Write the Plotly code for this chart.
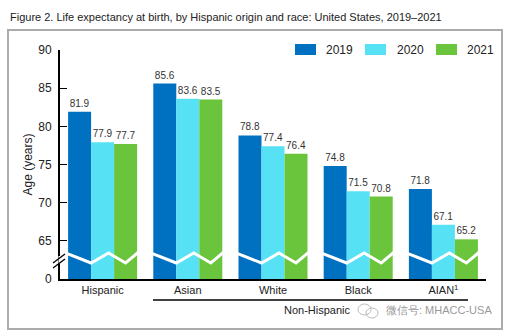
import plotly.graph_objects as go

categories = ["Hispanic", "Asian", "White", "Black", "AIAN<sup>1</sup>"]
years = ["2019", "2020", "2021"]
v2019 = [81.9, 85.6, 78.8, 74.8, 71.8]
v2020 = [77.9, 83.6, 77.4, 71.5, 67.1]
v2021 = [77.7, 83.5, 76.4, 70.8, 65.2]
colors = ["#0070C0", "#57E1F5", "#6BC53C"]
tick_vals = [60, 65, 70, 75, 80, 85, 90]
tick_text = ["0", "65", "70", "75", "80", "85", "90"]
BASE = 60

W, H = 512, 332
ML, MR, MT, MB = 60, 26, 50, 53
PW, PH = W - ML - MR, H - MT - MB

def px(x):
    return (x - ML) / PW

def py(y):
    return (H - MB - y) / PH

fig = go.Figure()
xs = list(range(len(categories)))
for name, vals, col in zip(years, [v2019, v2020, v2021], colors):
    fig.add_trace(go.Bar(
        x=xs, y=[v - BASE for v in vals], base=BASE, name=name,
        marker=dict(color=col, line=dict(width=0)),
        text=[f"{v:.1f}" for v in vals], textposition="outside",
        textfont=dict(size=10, color="#333333", family="Liberation Sans"),
        cliponaxis=False, showlegend=False,
    ))

# axis-break zigzag across each group
zx, zy = [], []
offs = [-0.43, -0.135, 0.07, 0.27, 0.43]
levs = [63.4, 62.1, 63.4, 62.1, 63.6]
for i in xs:
    zx += [i + o for o in offs] + [None]
    zy += levs + [None]
fig.add_trace(go.Scatter(x=zx, y=zy, mode="lines", line=dict(color="white", width=3),
                         hoverinfo="skip", showlegend=False))

shapes = []
# outer box
shapes.append(dict(type="rect", xref="paper", yref="paper", x0=px(8), x1=px(502), y0=py(329), y1=py(30),
                   line=dict(color="#ABABAB", width=2), layer="below"))
# axis break
shapes.append(dict(type="line", xref="paper", yref="paper", x0=px(60), x1=px(60), y0=py(264), y1=py(256),
                   line=dict(color="white", width=3)))
for dy in (0, 5):
    shapes.append(dict(type="line", xref="paper", yref="paper", x0=px(53), x1=px(65),
                       y0=py(263 + dy), y1=py(254 + dy), line=dict(color="black", width=1.3)))
# Non-Hispanic bracket line
shapes.append(dict(type="line", xref="paper", yref="paper", x0=px(153), x1=px(468), y0=py(300), y1=py(300),
                   line=dict(color="black", width=1.5)))
# legend swatches
annotations = []
for (sx, tx), name, col in zip([(295, 324), (365, 395), (436, 465)], years, colors):
    shapes.append(dict(type="rect", xref="paper", yref="paper", x0=px(sx), x1=px(sx + 21),
                       y0=py(55), y1=py(44), fillcolor=col, line=dict(width=0)))
    annotations.append(dict(x=px(tx), y=py(50), xref="paper", yref="paper", text=name, showarrow=False,
                            xanchor="left", yanchor="middle", font=dict(size=12, color="#222")))
# wechat icon approximation
shapes.append(dict(type="circle", xref="paper", yref="paper", x0=px(358), x1=px(371), y0=py(315), y1=py(304),
                   line=dict(color="#BBBBBB", width=1)))
shapes.append(dict(type="circle", xref="paper", yref="paper", x0=px(366), x1=px(378), y0=py(318), y1=py(308),
                   line=dict(color="#BBBBBB", width=1)))

annotations.append(dict(x=px(317), y=py(310), xref="paper", yref="paper", text="Non-Hispanic", showarrow=False,
                        xanchor="center", yanchor="middle", font=dict(size=11, color="#222")))
annotations.append(dict(x=px(384), y=py(310), xref="paper", yref="paper", text="微信号: MHACC-USA", showarrow=False,
                        xanchor="left", yanchor="middle", font=dict(size=11, color="#9A9A9A")))
annotations.append(dict(x=px(8), y=py(17), xref="paper", yref="paper",
                        text="Figure 2. Life expectancy at birth, by Hispanic origin and race: United States, 2019\u20132021",
                        showarrow=False, xanchor="left", yanchor="middle", font=dict(size=11, color="#222")))

fig.update_layout(
    width=W, height=H, margin=dict(l=ML, r=MR, t=MT, b=MB),
    paper_bgcolor="white", plot_bgcolor="white",
    font=dict(family="Liberation Sans, Arial, sans-serif", color="#222"),
    barmode="group", bargap=0.19, bargroupgap=0,
    shapes=shapes, annotations=annotations, showlegend=False,
    xaxis=dict(range=[-0.5, 4.5], tickvals=xs, ticktext=categories, showline=True, linecolor="black",
               linewidth=2, ticks="", showgrid=False, zeroline=False, tickfont=dict(size=11),
               fixedrange=True),
    yaxis=dict(range=[BASE, 90], tickvals=tick_vals, ticktext=tick_text, showline=True, linecolor="black",
               linewidth=2, ticks="inside", ticklen=7, tickcolor="black", showgrid=False, zeroline=False,
               tickfont=dict(size=12), ticklabelstandoff=4,
               title=dict(text="Age (years)", font=dict(size=12), standoff=3)),
)
fig.write_html("out.html")
